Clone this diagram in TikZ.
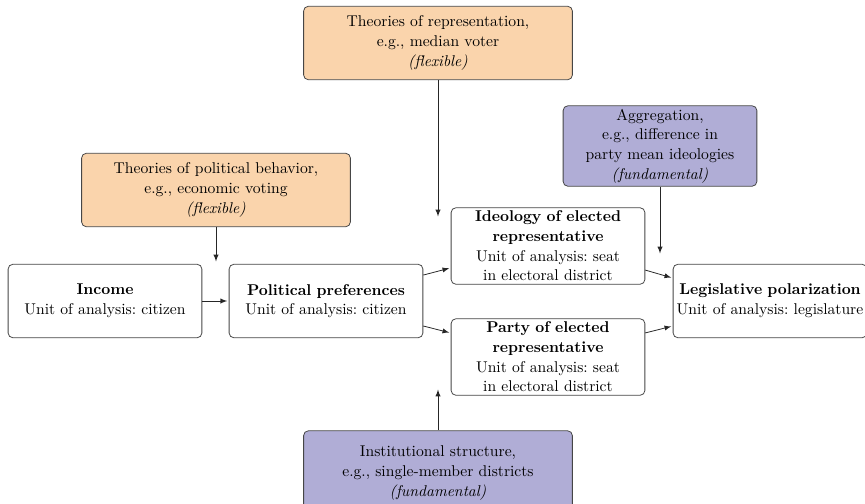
\documentclass[tikz,border=0pt]{standalone}
\usepackage{tikz}
\usetikzlibrary{arrows}
\definecolor{flexcol}{RGB}{250,212,172}
\definecolor{fundcol}{RGB}{176,173,214}
\definecolor{framecol}{RGB}{70,70,70}
\linespread{1.05}

\begin{document}
\begin{tikzpicture}[x=0.64pt,y=-0.64pt,
    box/.style={draw=framecol,fill=white,rounded corners=3pt,align=center,
      text width=120pt,minimum height=47pt,inner sep=2pt,line width=0.5pt},
    wide/.style={box,text width=168pt},
    flex/.style={fill=flexcol},
    fund/.style={fill=fundcol},
    arr/.style={-latex,draw=black!85,line width=0.5pt,shorten >=1pt}]
    \useasboundingbox (0,0) rectangle (865,503);
    \clip (0,0) rectangle (865,503);
    % Kette der Variablen
    \node[box] (income) at (105,301) {\textbf{Income}\\Unit of analysis:\ citizen};
    \node[box] (prefs) at (326,301) {\textbf{Political preferences}\\Unit of analysis:\ citizen};
    \node[box] (ideo) at (548,246) {\textbf{Ideology of elected}\\\textbf{representative}\\Unit of analysis:\ seat\\in electoral district};
    \node[box] (party) at (548,357) {\textbf{Party of elected}\\\textbf{representative}\\Unit of analysis:\ seat\\in electoral district};
    \node[box] (legis) at (770,301) {\textbf{Legislative polarization}\\Unit of analysis:\ legislature};
    % Theorien und Aggregation
    \node[wide,flex] (behav) at (216,190) {Theories of political behavior,\\e.g., economic voting\\\textit{(flexible)}};
    \node[wide,flex] (repr) at (438,43) {Theories of representation,\\e.g., median voter\\\textit{(flexible)}};
    \node[box,fund] (aggr) at (660,146) {Aggregation,\\e.g., difference in\\party mean ideologies\\\textit{(fundamental)}};
    \node[wide,fund,minimum height=54pt] (inst) at (438,473) {Institutional structure,\\e.g., single-member districts\\\textit{(fundamental)}};
    % freie Pfeilenden
    \coordinate (behavend) at (216,263);
    \coordinate (reprend) at (438,218);
    \coordinate (aggrend) at (660,255);
    \coordinate (instend) at (438,388);
    % Pfeile
    \draw[arr] (income) -- (prefs);
    \draw[arr] ([yshift=16.6pt]prefs.east) -- ([yshift=-14pt]ideo.west);
    \draw[arr] ([yshift=-16pt]prefs.east) -- ([yshift=15.4pt]party.west);
    \draw[arr] ([yshift=-15.4pt]ideo.east) -- ([yshift=14.7pt]legis.west);
    \draw[arr] ([yshift=15.4pt]party.east) -- ([yshift=-16pt]legis.west);
    \draw[arr] (behav) -- (behavend);
    \draw[arr] (repr) -- (reprend);
    \draw[arr] (aggr) -- (aggrend);
    \draw[arr] (inst) -- (instend);
\end{tikzpicture}
\end{document}
